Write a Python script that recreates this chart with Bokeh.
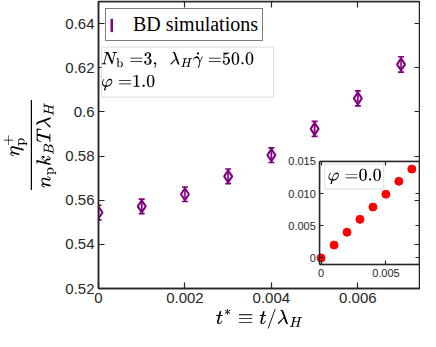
from bokeh.plotting import figure
from bokeh.models import (ColumnDataSource, FixedTicker, LinearAxis, Range1d,
                          Legend, LegendItem, Label, TeX, BoxAnnotation)
from bokeh.embed import file_html
from bokeh.resources import INLINE

# ---------------- data ----------------
t_star = [0.0, 0.001, 0.002, 0.003, 0.004, 0.005, 0.006, 0.007]
eta_plus = [0.5544, 0.5572, 0.5627, 0.5708, 0.5804, 0.5923, 0.6061, 0.6215]
eta_err = [0.0033, 0.0033, 0.0033, 0.0033, 0.0033, 0.0034, 0.0034, 0.0035]

x_ticks = [0.0, 0.002, 0.004, 0.006]
x_tick_labels = ["0", "0.002", "0.004", "0.006"]
y_ticks = [0.52, 0.54, 0.56, 0.58, 0.6, 0.62, 0.64]
y_tick_labels = ["0.52", "0.54", "0.56", "0.58", "0.6", "0.62", "0.64"]

inset_t = [0.0, 0.001, 0.002, 0.003, 0.004, 0.005, 0.006, 0.007]
inset_eta = [0.0, 0.002, 0.004, 0.006, 0.0079, 0.0099, 0.0119, 0.0138]
inset_x_ticks = [0.0, 0.005]
inset_x_tick_labels = ["0", "0.005"]
inset_y_ticks = [0.0, 0.005, 0.01, 0.015]
inset_y_tick_labels = ["0", "0.005", "0.010", "0.015"]

series_label = "BD simulations"

# ---------------- layout / style constants ----------------
MAIN_XLIM = (0.0, 0.00745)
MAIN_YLIM = (0.52, 0.65)
INSET_XLIM = (-0.0001, 0.00757)
INSET_YLIM = (-0.001, 0.015)
# where the inset's frame sits, in main-axis units
INSET_AT_X = (0.00512, 0.00742)
INSET_AT_Y = (0.5309, 0.5776)

PURPLE = "#800080"
AX = "#262626"
TICK_FONT = "Liberation Sans"


def outer_range(inner, at, main):
    s = (inner[1] - inner[0]) / (at[1] - at[0])
    return Range1d(inner[0] - (at[0] - main[0]) * s, inner[1] + (main[1] - at[1]) * s)


def label_axis(ax, ticks, labels, size, tick_len, standoff):
    ax.ticker = FixedTicker(ticks=ticks, minor_ticks=[])
    ax.major_tick_in = tick_len
    ax.major_tick_out = 0
    ax.minor_tick_in = 0
    ax.minor_tick_out = 0
    ax.axis_line_color = AX
    ax.axis_line_width = 1.5
    ax.major_tick_line_color = AX
    ax.major_tick_line_width = 1.2
    ax.major_label_overrides = dict(zip(ticks, labels))
    ax.major_label_text_font = TICK_FONT
    ax.major_label_text_font_size = size
    ax.major_label_text_color = AX
    ax.major_label_standoff = standoff
    return ax


def mirror_axis(ticks, tick_in, tick_out, **kw):
    # tick marks only (drawn as minor ticks, so no labels are produced)
    ax = LinearAxis(ticker=FixedTicker(ticks=[], minor_ticks=ticks), **kw)
    ax.major_tick_in = 0
    ax.major_tick_out = 0
    ax.minor_tick_in = tick_in
    ax.minor_tick_out = tick_out
    ax.minor_tick_line_color = AX
    ax.minor_tick_line_width = 1.2
    ax.axis_line_color = AX
    ax.axis_line_width = 1.5
    return ax


# ---------------- main figure ----------------
W, H = 420, 331
p = figure(width=W, height=H, x_range=Range1d(*MAIN_XLIM), y_range=Range1d(*MAIN_YLIM),
           output_backend="svg", toolbar_location=None, min_border=0,
           min_border_left=85, min_border_right=0, min_border_top=1, min_border_bottom=40)
p.grid.visible = False
p.outline_line_color = AX
p.outline_line_width = 1.5
p.background_fill_color = "white"
p.border_fill_color = "white"

xax = label_axis(p.xaxis[0], x_ticks, x_tick_labels, "15px", 6, 4)
yax = label_axis(p.yaxis[0], y_ticks, y_tick_labels, "15px", 6, 4)
xax.axis_label = r"$$t^{*}\equiv t/\lambda_H$$"
xax.axis_label_text_font_size = "17px"
xax.axis_label_text_color = "black"
xax.axis_label_standoff = 3
yax.axis_label = r"$$\displaystyle\frac{\eta_{\mathrm{p}}^{+}}{n_{\mathrm{p}}k_BT\lambda_H}$$"
yax.axis_label_text_font_size = "17px"
yax.axis_label_text_color = "black"
yax.axis_label_standoff = 6

# mirrored tick marks on the top and right edges of the box
p.add_layout(mirror_axis(x_ticks, 6, 0, fixed_location=MAIN_YLIM[1]), "above")
p.add_layout(mirror_axis(y_ticks, 0, 6, fixed_location=MAIN_XLIM[1]), "left")

src = ColumnDataSource(dict(
    t=t_star, eta=eta_plus,
    lo=[v - e for v, e in zip(eta_plus, eta_err)],
    hi=[v + e for v, e in zip(eta_plus, eta_err)],
))
r_stem = p.vbar(x="t", width=0.00003, bottom="lo", top="hi", source=src,
                fill_color=PURPLE, line_color=PURPLE, line_width=0.5)
p.scatter(x="t", y="lo", source=src, marker="dash", size=6,
          line_color=PURPLE, line_width=1.6)
p.scatter(x="t", y="hi", source=src, marker="dash", size=6,
          line_color=PURPLE, line_width=1.6)
r_dia = p.scatter(x="t", y="eta", source=src, marker="diamond", size=12,
                  fill_alpha=0, line_color=PURPLE, line_width=2)

legend = Legend(items=[LegendItem(label=series_label, renderers=[r_stem, r_dia])],
                location="top_left", margin=7, padding=4, spacing=0,
                glyph_width=3, glyph_height=16, label_height=16, label_standoff=20,
                label_text_font="Liberation Serif", label_text_font_size="20px",
                label_text_color="black",
                border_line_color="black", border_line_width=1.2,
                background_fill_color="white", background_fill_alpha=1)
p.add_layout(legend)

# parameter text box
p.add_layout(BoxAnnotation(left=0.00007, right=0.00405, top=0.6293, bottom=0.6067,
                           fill_color="white", fill_alpha=1,
                           line_color="#a0a0a0", line_width=1.2))
p.add_layout(Label(x=0.00006, y=0.6238,
                   text=TeX(text=r"N_{\mathrm{b}}\;{=}3,\ \ \lambda_H\dot{\gamma}\;{=}50.0", inline=True),
                   text_font_size="15px", text_color="black",
                   text_align="left", text_baseline="middle"))
p.add_layout(Label(x=0.00006, y=0.6130,
                   text=TeX(text=r"\varphi\;{=}1.0", inline=True),
                   text_font_size="15px", text_color="black",
                   text_align="left", text_baseline="middle"))

# ---------------- inset (own ranges mapped onto a region of the frame) ----------------
p.extra_x_ranges = {"ix": outer_range(INSET_XLIM, INSET_AT_X, MAIN_XLIM)}
p.extra_y_ranges = {"iy": outer_range(INSET_YLIM, INSET_AT_Y, MAIN_YLIM)}
IN = dict(x_range_name="ix", y_range_name="iy")

p.add_layout(BoxAnnotation(left=INSET_XLIM[0], right=INSET_XLIM[1],
                           bottom=INSET_YLIM[0], top=INSET_YLIM[1],
                           fill_color="white", fill_alpha=1,
                           line_color=AX, line_width=1.5, level="underlay", **IN))

ix_ax = label_axis(LinearAxis(fixed_location=INSET_YLIM[0], bounds=INSET_XLIM, **IN),
                   inset_x_ticks, inset_x_tick_labels, "11px", 4, 5)
p.add_layout(ix_ax, "below")
iy_ax = label_axis(LinearAxis(fixed_location=INSET_XLIM[0], bounds=INSET_YLIM, **IN),
                   inset_y_ticks, inset_y_tick_labels, "11px", 4, 4)
p.add_layout(iy_ax, "left")
p.add_layout(mirror_axis(inset_x_ticks, 4, 0, fixed_location=INSET_YLIM[1],
                         bounds=INSET_XLIM, **IN), "above")
p.add_layout(mirror_axis(inset_y_ticks, 0, 4, fixed_location=INSET_XLIM[1],
                         bounds=INSET_YLIM, **IN), "left")

isrc = ColumnDataSource(dict(t=inset_t, eta=inset_eta))
p.scatter(x="t", y="eta", source=isrc, marker="circle", size=8,
          fill_color="#ff0000", line_color="#ff0000", line_width=1, **IN)

p.add_layout(BoxAnnotation(left=0.00028, right=0.00483, top=0.01455, bottom=0.0107,
                           fill_color="white", fill_alpha=1,
                           line_color="#a0a0a0", line_width=1.2, **IN))
p.add_layout(Label(x=0.0005, y=0.01265,
                   text=TeX(text=r"\varphi\;{=}0.0", inline=True),
                   text_font_size="14px", text_color="black",
                   text_align="left", text_baseline="middle", **IN))

open("out.html", "w").write(file_html(p, INLINE))
